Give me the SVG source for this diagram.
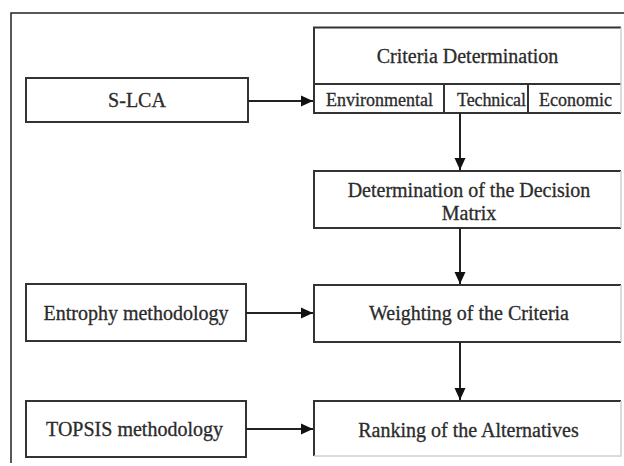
<svg xmlns="http://www.w3.org/2000/svg" width="624" height="466" viewBox="0 0 624 466">
<style>
.box{fill:#fff;stroke:none}
.edge{fill:none;stroke:#333;stroke-width:2}
.faint{fill:none;stroke:#d0d0d0;stroke-width:1.5}
.frame{fill:none;stroke:#222;stroke-width:1.5}
.t{font-family:"Liberation Serif","Times New Roman",serif;font-size:20px;fill:#2b2b2b;stroke:#2b2b2b;stroke-width:0.3;text-anchor:middle}
.s{font-size:18px}
.conn{fill:none;stroke:#222;stroke-width:2}
</style>
<defs>
<marker id="ah" markerUnits="userSpaceOnUse" markerWidth="12" markerHeight="12" viewBox="0 0 12 12" refX="12" refY="6" orient="auto">
<path d="M0,0.5 L12,6 L0,11.5 Z" fill="#111"/>
</marker>
</defs>
<rect width="624" height="466" fill="#fff"/>
<path class="frame" d="M624,13 H11 V463"/>

<g id="criteria">
<rect class="box" x="314" y="27.5" width="307" height="85.5"/>
<path class="edge" d="M621,27.5 H314 V113 H621 M314,84 H621 M444,84 V113 M528,84 V113"/>
<path class="faint" d="M621,27.5 V113"/>
<text class="t" x="467.5" y="63">Criteria Determination</text>
<text class="t s" x="379.5" y="106">Environmental</text>
<text class="t s" x="491.5" y="106" textLength="69">Technical</text>
<text class="t s" x="575.5" y="106">Economic</text>
</g>

<g id="slca">
<rect class="box" x="26" y="78" width="222" height="44"/>
<rect class="edge" x="26" y="78" width="222" height="44"/>
<text class="t" x="137" y="107">S-LCA</text>
</g>

<g id="decision">
<rect class="box" x="314" y="171" width="307" height="57"/>
<path class="edge" d="M621,171 H314 V228 H621"/>
<path class="faint" d="M621,171 V228"/>
<text class="t" x="469" y="197">Determination of the Decision</text>
<text class="t" x="469" y="220">Matrix</text>
</g>

<g id="weighting">
<rect class="box" x="314" y="285" width="307" height="57"/>
<path class="edge" d="M621,285 H314 V342 H621"/>
<path class="faint" d="M621,285 V342"/>
<text class="t" x="469" y="320">Weighting of the Criteria</text>
</g>

<g id="entrophy">
<rect class="box" x="26" y="284" width="220" height="57"/>
<rect class="edge" x="26" y="284" width="220" height="57"/>
<text class="t" x="136" y="320">Entrophy methodology</text>
</g>

<g id="ranking">
<rect class="box" x="314" y="401" width="307" height="55"/>
<path class="edge" d="M621,401 H314 V456"/>
<path class="faint" d="M314,456 H621 V401"/>
<text class="t" x="468.5" y="437">Ranking of the Alternatives</text>
</g>

<g id="topsis">
<rect class="box" x="26" y="401" width="220" height="56"/>
<rect class="edge" x="26" y="401" width="220" height="56"/>
<text class="t" x="134.5" y="436">TOPSIS methodology</text>
</g>

<g id="connectors">
<path class="conn" d="M248,101 H313" marker-end="url(#ah)"/>
<path class="conn" d="M460,113 V170" marker-end="url(#ah)"/>
<path class="conn" d="M460,228 V284" marker-end="url(#ah)"/>
<path class="conn" d="M246,313 H313" marker-end="url(#ah)"/>
<path class="conn" d="M460,342 V400" marker-end="url(#ah)"/>
<path class="conn" d="M246,429 H313" marker-end="url(#ah)"/>
</g>
</svg>
